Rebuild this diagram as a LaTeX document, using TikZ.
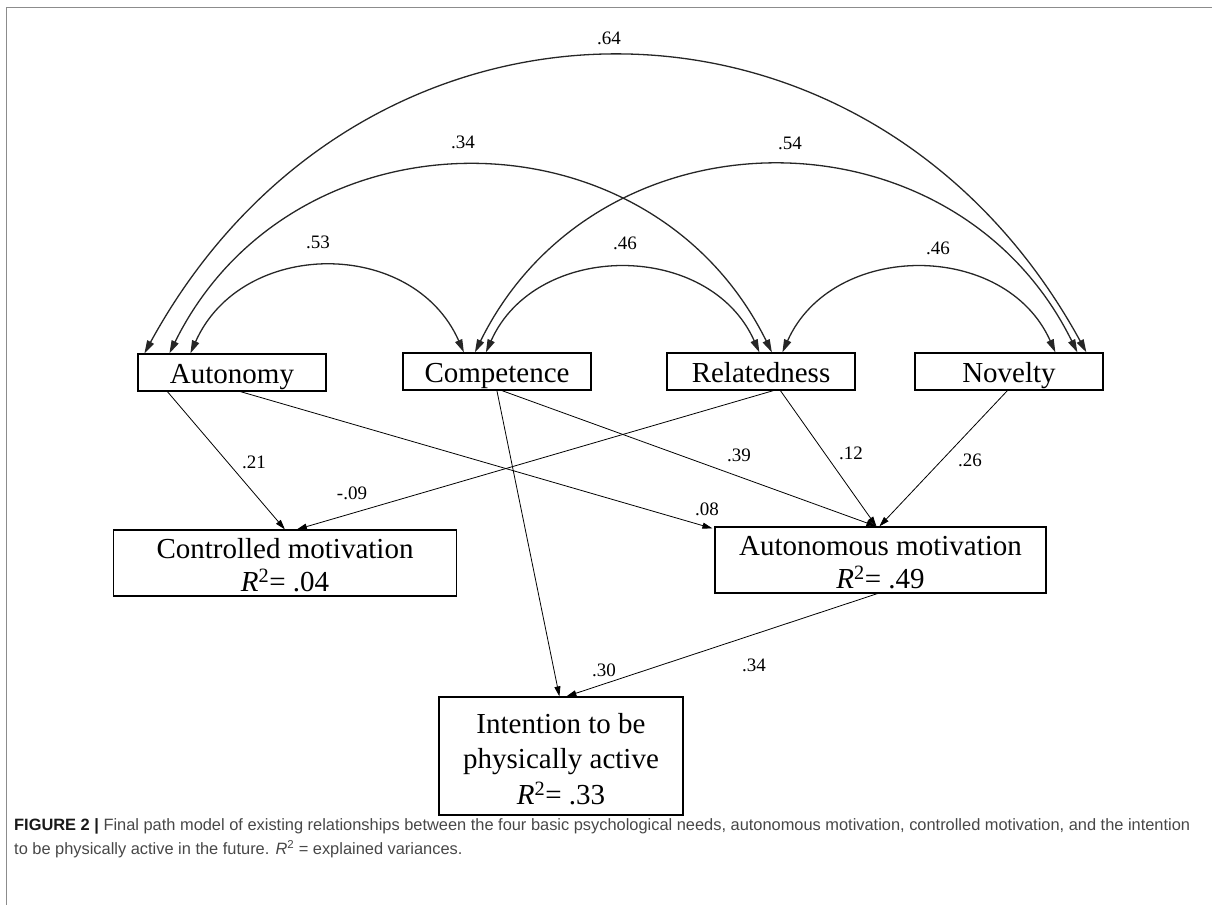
\documentclass[tikz,border=0pt]{standalone}
\usepackage{fontspec}
\setmainfont{Liberation Serif}
\newfontfamily\capfont{Liberation Sans}
\usetikzlibrary{arrows.meta}
\begin{document}
\begin{tikzpicture}[x=1pt,y=-1pt,
  box/.style={draw, line width=1.2pt, inner sep=0pt, font=\fontsize{29}{33}\selectfont, align=center},
  onebox/.style={box, minimum width=188pt, minimum height=37pt, text height=21pt, text depth=0pt},
  lab/.style={font=\fontsize{19}{19}\selectfont, inner sep=0pt},
  cov/.style={{Triangle[length=13pt,width=7.5pt]}-{Triangle[length=13pt,width=7.5pt]}, line width=1.3pt, black!85},
  pth/.style={-{Triangle[length=10pt,width=6pt]}, line width=0.8pt},
  frame/.style={draw=black!45, line width=1pt},
  captxt/.style={font=\capfont\fontsize{16.4}{19}\selectfont, text=black!72, inner sep=0pt, anchor=west}]
\useasboundingbox (0,0) rectangle (1212,905);
% frame
\coordinate (fTL) at (6,7);
\coordinate (fTR) at (1212,7);
\coordinate (fBL) at (6,905);
\draw[frame] (fTR) -- (fTL) -- (fBL);

% boxes
\node[onebox] (aut)  at (232,372.5) {Autonomy};
\node[onebox] (comp) at (497,371.5) {Competence};
\node[onebox] (rel)  at (761,371.5) {Relatedness};
\node[onebox] (nov)  at (1009,371.5) {Novelty};
\node[box, minimum width=343pt, minimum height=66pt] (ctrl) at (285,563) {\rule{0pt}{24pt}Controlled motivation\\\textit{R}\textsuperscript{2}= .04};
\node[box, minimum width=331pt, minimum height=66pt] (autm) at (880.5,560) {\rule{0pt}{24pt}Autonomous motivation\\\textit{R}\textsuperscript{2}= .49};
\node[box, minimum width=244pt, minimum height=118pt, font=\fontsize{29}{35.5}\selectfont] (int) at (561,756) {\rule{0pt}{26pt}Intention to be\\physically active\\\textit{R}\textsuperscript{2}= .33};

% covariance end points
\coordinate (a1) at ([xshift=7pt]aut.north west);
\coordinate (a2) at ([xshift=32pt]aut.north west);
\coordinate (a3) at ([xshift=53pt]aut.north west);
\coordinate (c1) at ([xshift=61.5pt]comp.north west);
\coordinate (c2) at ([xshift=72.5pt]comp.north west);
\coordinate (c3) at ([xshift=83.5pt]comp.north west);
\coordinate (r1) at ([xshift=93pt]rel.north west);
\coordinate (r2) at ([xshift=105.5pt]rel.north west);
\coordinate (r3) at ([xshift=116pt]rel.north west);
\coordinate (n1) at ([xshift=141pt]nov.north west);
\coordinate (n2) at ([xshift=163pt]nov.north west);
\coordinate (n3) at ([xshift=172pt]nov.north west);

% covariances
\draw[cov] (a1) .. controls +(216,-395) and +(-216,-395) .. (n3);
\draw[cov] (a2) .. controls +(123,-249) and +(-123,-249) .. (r2);
\draw[cov] (c2) .. controls +(123,-249) and +(-123,-249) .. (n2);
\draw[cov] (a3) .. controls +(51,-115) and +(-51,-115) .. (c1);
\draw[cov] (c3) .. controls +(50,-112) and +(-50,-112) .. (r1);
\draw[cov] (r3) .. controls +(50,-112) and +(-50,-112) .. (n1);

\node[lab] (l64) at (609,38) {.64};
\node[lab] (l34a) at (463,142) {.34};
\node[lab] (l54) at (790,143) {.54};
\node[lab] (l53) at (318,242) {.53};
\node[lab] (l46a) at (625,243) {.46};
\node[lab] (l46b) at (938,248) {.46};

% paths
\draw[pth] ([xshift=30pt]aut.south west) -- ([xshift=172pt]ctrl.north west);
\draw[pth] ([xshift=107pt]rel.south west) -- ([xshift=184pt]ctrl.north west);
\draw[pth] ([xshift=103pt]aut.south west) -- ([shift={(-2pt,-2pt)}]autm.north west);
\draw[pth] ([xshift=94.5pt]comp.south west) -- ([xshift=121pt]int.north west);
\draw[pth] ([xshift=99.5pt]comp.south west) -- ([xshift=162pt]autm.north west);
\draw[pth] ([xshift=114pt]rel.south west) -- ([xshift=162pt]autm.north west);
\draw[pth] ([xshift=93pt]nov.south west) -- ([xshift=165pt]autm.north west);
\draw[pth] ([xshift=163pt]autm.south west) -- ([xshift=128pt]int.north west);

\node[lab] (l21) at (254,462) {.21};
\node[lab] (l09) at (352,493) {-.09};
\node[lab] (l08) at (707,509) {.08};
\node[lab] (l39) at (739,455) {.39};
\node[lab] (l12) at (851,453) {.12};
\node[lab] (l26) at (970,460) {.26};
\node[lab] (l30) at (604,670) {.30};
\node[lab] (l34b) at (754,665) {.34};

% caption
\node[captxt] (cap1) at (14,826) {\textbf{\color{black!90}FIGURE 2 |} Final path model of existing relationships between the four basic psychological needs, autonomous motivation, controlled motivation, and the intention};
\node[captxt] (cap2) at (14,849) {to be physically active in the future. \textit{R}\textsuperscript{2} = explained variances.};
\end{tikzpicture}
\end{document}
